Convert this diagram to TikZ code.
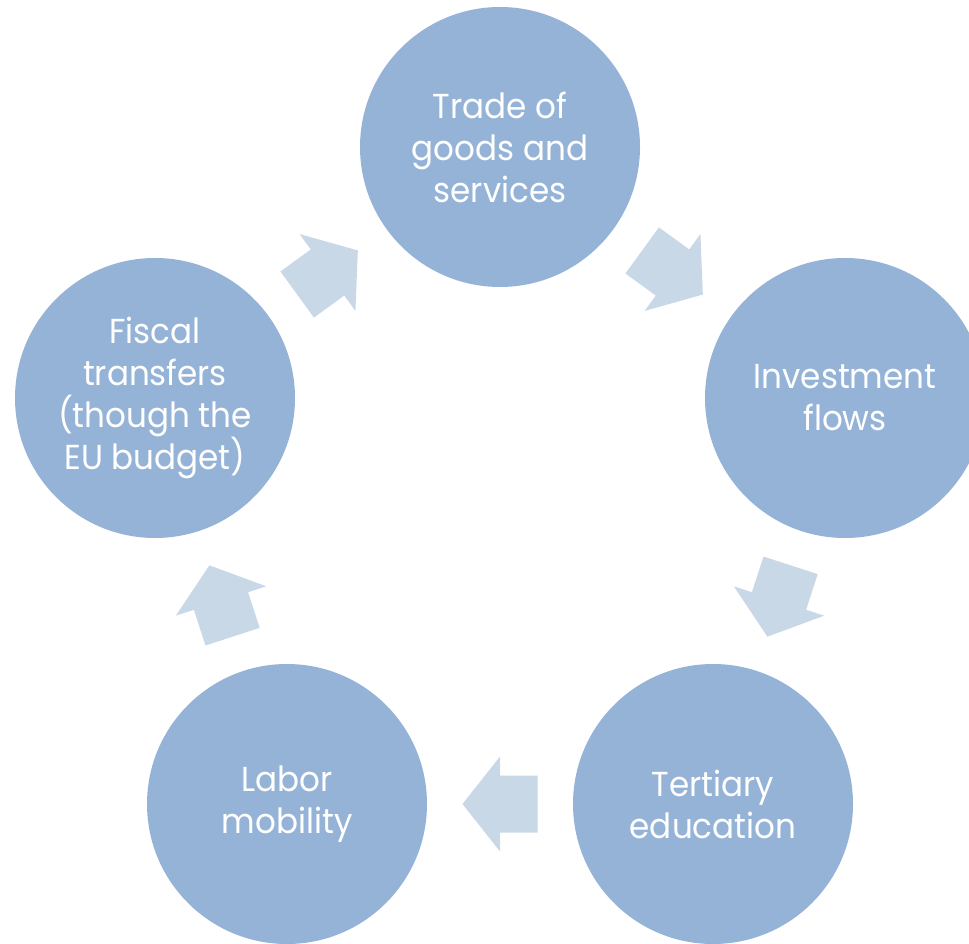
\documentclass[tikz,border=0pt]{standalone}
\usepackage{fontspec}
\setmainfont{Poppins}[FakeStretch=0.94]
\usetikzlibrary{calc}
\definecolor{bubblefill}{HTML}{95B3D7}
\definecolor{arrowfill}{HTML}{C8D8E6}
\tikzset{
  bubble/.style={circle, fill=bubblefill, minimum size=210pt, inner sep=0pt,
    text=white, align=center, font=\fontsize{26}{31.5}\selectfont},
  pics/flowarrow/.style={code={
    \fill[arrowfill] (-37.5,-28.5) -- (0,-28.5) -- (0,-47.5) -- (37.5,0)
      -- (0,47.5) -- (0,28.5) -- (-37.5,28.5) -- cycle;
  }}
}
\begin{document}
\begin{tikzpicture}[x=0.75pt, y=0.75pt]
  \useasboundingbox (0,0) rectangle (969,943);
  \clip (0,0) rectangle (969,943);
  \node[bubble] (trade) at (500,796) {Trade of\\goods and\\services};
  \node[bubble] (invest) at (845,545) {Investment\\flows};
  \node[bubble] (tertiary) at (713,139) {Tertiary\\education};
  \node[bubble] (labor) at (287,139) {Labor\\mobility};
  \node[bubble] (fiscal) at (155,545) {Fiscal\\transfers\\(though the\\EU budget)};
  \pic[rotate=-36] at ($(trade)!0.5!(invest)$) {flowarrow};
  \pic[rotate=-108] at ($(invest)!0.5!(tertiary)$) {flowarrow};
  \pic[rotate=180] at ($(tertiary)!0.5!(labor)$) {flowarrow};
  \pic[rotate=108] at ($(labor)!0.5!(fiscal)$) {flowarrow};
  \pic[rotate=36] at ($(fiscal)!0.5!(trade)$) {flowarrow};
\end{tikzpicture}
\end{document}
